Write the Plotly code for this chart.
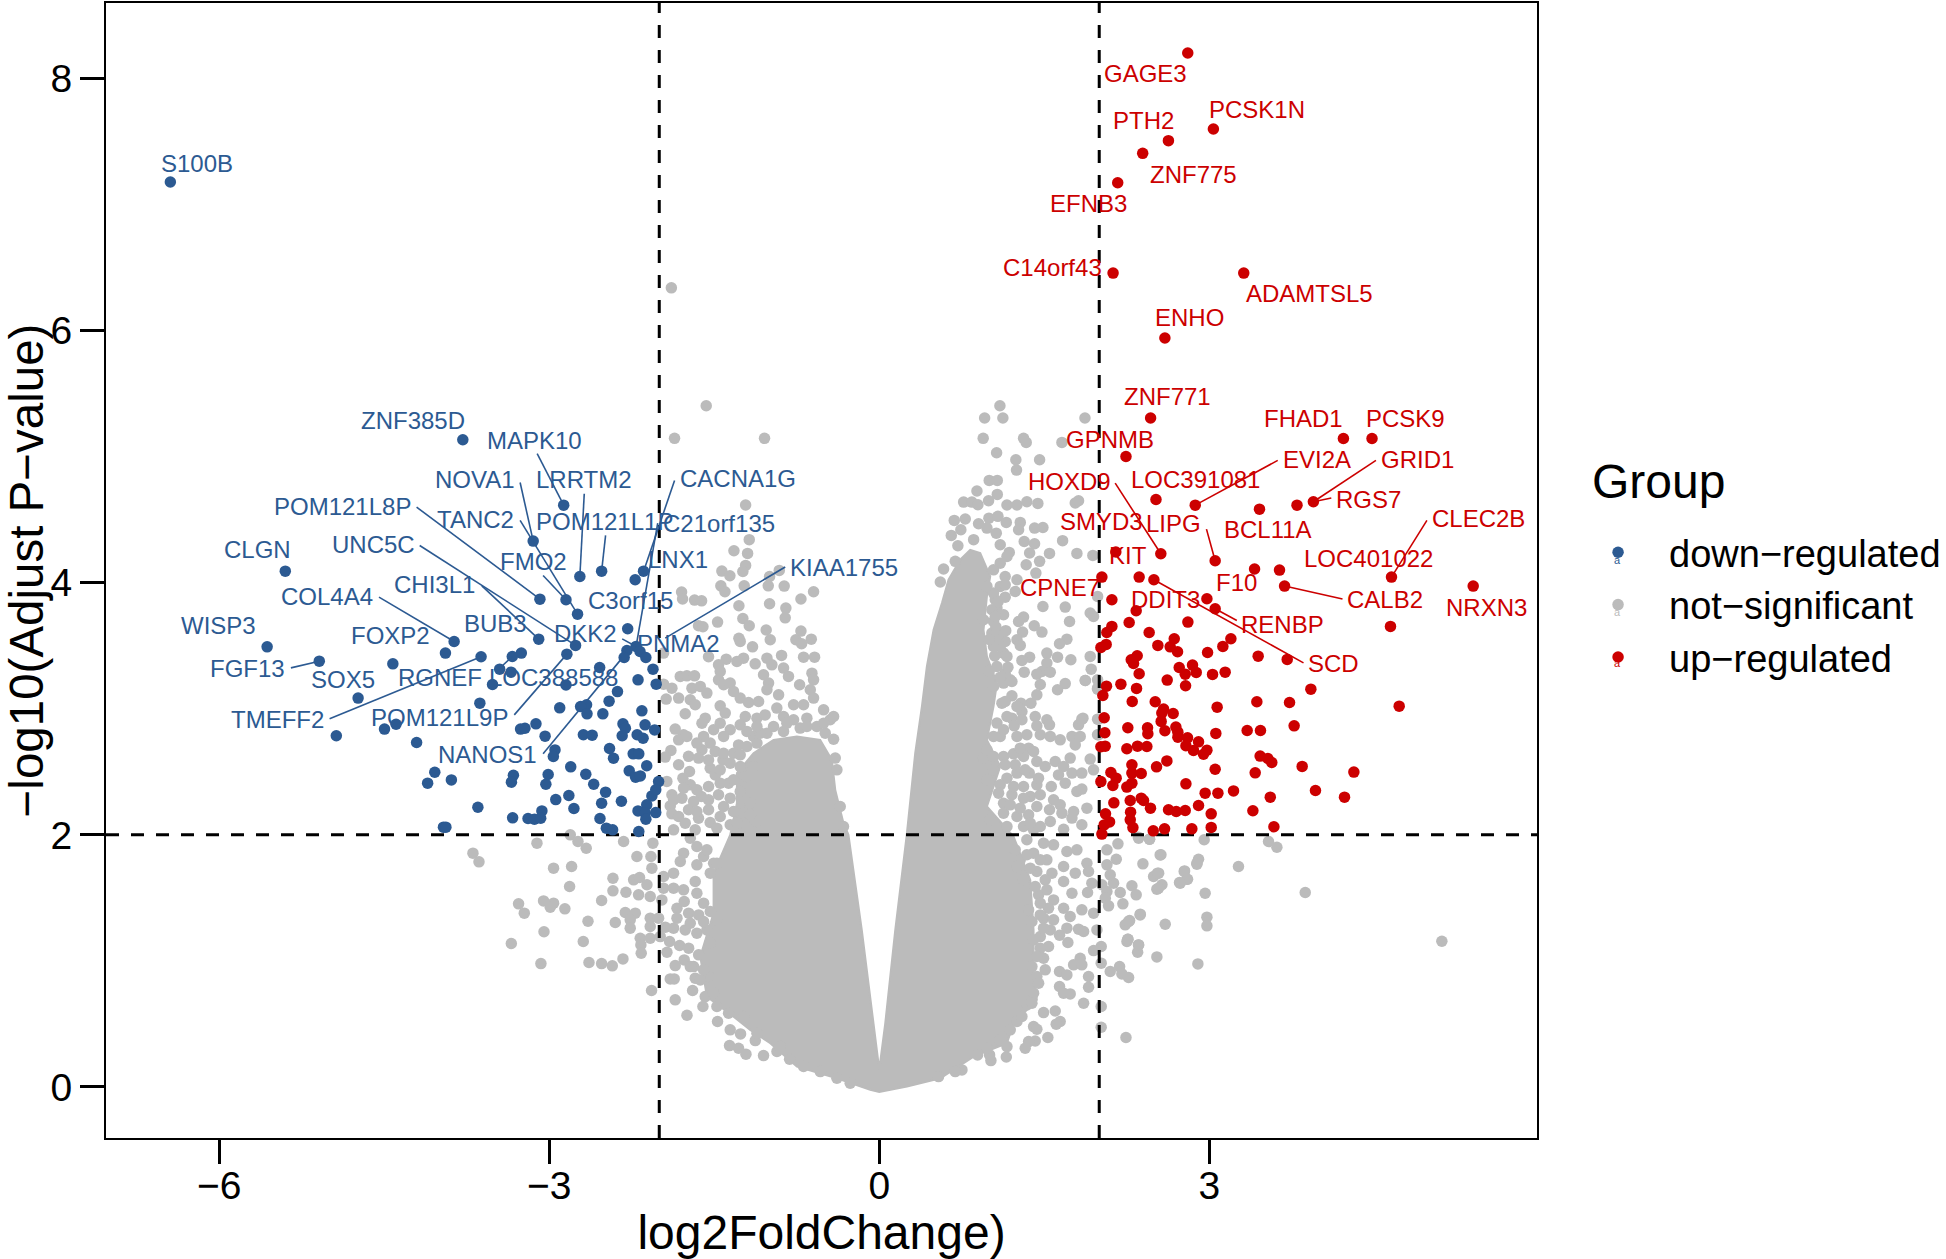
import plotly.graph_objects as go

BLUE = "#2C5A92"
RED = "#CC0000"
GREY = "#BBBBBB"
FONT = "Liberation Sans"

down_points = [(-6.445,7.18),(-3.786,5.135),(-2.869,4.616),(-3.146,4.331),(-5.40,4.092),(-2.524,4.092),(-2.722,4.05),(-2.143,4.092),(-2.219,4.024),(-3.085,3.87),(-2.848,3.865),(-2.743,3.751),(-2.287,3.635),(-3.096,3.553),(-3.865,3.534),(-2.761,3.503),(-5.565,3.492),(-3.944,3.442),(-2.84,3.434),(-2.211,3.495),(-2.294,3.463),(-2.319,3.407),(-2.175,3.455),(-2.122,3.407),(-3.62,3.413),(-3.254,3.442),(-3.336,3.415),(-5.091,3.378),(-4.422,3.357),(-2.542,3.328),(-2.057,3.315),(-3.451,3.315),(-3.347,3.291),(-3.516,3.193),(-2.848,3.19),(-2.193,3.23),(-2.028,3.196),(-2.38,3.137),(-4.738,3.085),(-2.456,3.061),(-3.631,3.045),(-2.905,3.008),(-2.661,3.032),(-2.715,3.018),(-2.158,2.984),(-2.657,2.96),(-2.513,2.96),(-4.936,2.786),(-4.498,2.839),(-4.393,2.878),(-4.206,2.733),(-3.261,2.839),(-3.221,2.846),(-3.121,2.881),(-3.038,2.783),(-2.69,2.794),(-2.61,2.791),(-2.33,2.881),(-2.308,2.846),(-2.337,2.786),(-2.129,2.873),(-2.042,2.833),(-2.201,2.794),(-2.147,2.767),(-2.452,2.685),(-2.948,2.674),(-2.963,2.622),(-2.416,2.608),(-2.237,2.643),(-2.186,2.643),(-2.114,2.548),(-2.805,2.54),(-2.273,2.508),(-4.041,2.497),(-2.668,2.481),(-3.326,2.473),(-3.01,2.479),(-2.215,2.458),(-2.172,2.468),(-3.89,2.436),(-3.344,2.418),(-4.106,2.41),(-3.031,2.402),(-2.596,2.402),(-2.006,2.423),(-2.488,2.339),(-2.822,2.312),(-2.941,2.28),(-2.344,2.267),(-2.524,2.251),(-2.067,2.309),(-2.032,2.357),(-2.114,2.238),(-3.649,2.219),(-2.776,2.209),(-3.067,2.19),(-2.193,2.19),(-2.129,2.172),(-2.032,2.177),(-3.333,2.135),(-3.193,2.13),(-3.135,2.124),(-3.078,2.132),(-2.539,2.13),(-2.122,2.124),(-3.962,2.061),(-3.94,2.061),(-2.481,2.053),(-2.424,2.04),(-2.186,2.027)]

up_points = [(2.805,8.203),(3.038,7.60),(2.629,7.508),(2.395,7.407),(2.168,7.174),(2.126,6.457),(3.314,6.457),(2.597,5.942),(2.467,5.307),(4.22,5.145),(4.48,5.145),(2.243,5.002),(2.516,4.661),(2.873,4.616),(3.457,4.584),(3.798,4.616),(3.947,4.643),(2.56,4.23),(3.054,4.175),(2.151,4.244),(3.412,4.109),(3.639,4.101),(4.657,4.045),(3.685,3.974),(5.40,3.974),(2.024,4.045),(2.363,4.045),(2.497,4.024),(2.115,3.865),(2.979,3.873),(3.054,3.794),(2.336,3.778),(2.272,3.685),(2.806,3.688),(4.648,3.654),(2.115,3.654),(2.069,3.606),(2.454,3.606),(2.682,3.556),(3.197,3.556),(2.063,3.511),(2.015,3.487),(2.533,3.503),(2.645,3.492),(2.712,3.453),(3.124,3.495),(2.985,3.447),(3.445,3.418),(3.709,3.392),(2.345,3.421),(2.291,3.389),(2.312,3.36),(2.727,3.328),(2.848,3.347),(2.782,3.275),(2.882,3.289),(2.363,3.278),(3.03,3.273),(3.145,3.291),(2.618,3.228),(2.066,3.18),(2.197,3.196),(2.339,3.162),(2.785,3.183),(3.924,3.156),(2.033,3.106),(2.3,3.058),(2.509,3.056),(3.433,3.056),(3.73,3.05),(4.727,3.021),(3.072,3.013),(2.585,2.998),(2.569,2.966),(2.672,2.963),(2.045,2.929),(2.563,2.9),(2.26,2.85),(2.439,2.85),(2.697,2.855),(3.772,2.865),(2.051,2.81),(2.442,2.802),(2.597,2.826),(2.715,2.815),(3.06,2.805),(3.345,2.828),(3.466,2.828),(2.715,2.775),(2.803,2.77),(2.903,2.738),(2.054,2.704),(2.015,2.699),(2.251,2.683),(2.348,2.704),(2.433,2.701),(2.788,2.707),(2.857,2.67),(2.979,2.672),(2.948,2.64),(3.463,2.625),(3.533,2.606),(3.569,2.574),(2.615,2.587),(2.521,2.54),(2.297,2.556),(3.845,2.543),(3.054,2.521),(3.418,2.492),(4.315,2.498),(2.106,2.495),(2.297,2.49),(2.382,2.487),(2.154,2.45),(2.015,2.423),(2.124,2.392),(2.297,2.41),(2.251,2.379),(2.788,2.405),(3.221,2.349),(3.966,2.352),(2.963,2.331),(3.079,2.331),(3.555,2.299),(4.23,2.299),(2.282,2.273),(2.382,2.291),(2.403,2.273),(2.133,2.254),(2.466,2.212),(2.903,2.233),(2.63,2.199),(2.7,2.185),(2.782,2.193),(3.397,2.191),(2.285,2.18),(2.057,2.167),(3.018,2.167),(2.282,2.119),(2.094,2.103),(2.045,2.079),(2.306,2.058),(3.588,2.064),(3.018,2.059),(2.842,2.048),(2.594,2.048),(2.491,2.032),(2.024,2.006)]

# Individually readable not-significant genes, left of zero
ns_left = [(-1.89,6.34),(-1.573,5.405),(-1.861,5.146),(-1.043,5.146),(-1.215,4.617),(-1.182,4.342),(-1.321,4.254),(-1.197,4.233),(-1.215,4.138),(-1.24,4.09),(-1.431,4.093),(-1.358,4.056),(-1.44,3.976),(-1.403,3.929),(-1.228,3.976),(-0.997,4.05),(-0.909,4.098),(-1.009,3.976),(-0.864,3.974),(-0.597,3.929),(-0.712,3.871),(-0.997,3.834),(-0.849,3.799),(-0.855,3.722),(-1.797,3.926),(-1.788,3.871),(-1.679,3.863),(-1.615,3.857),(-1.276,3.818),(-1.24,3.717),(-1.182,3.659),(-1.47,3.688),(-1.643,3.659),(-1.603,3.651),(-1.028,3.625),(-0.712,3.617),(-1.276,3.559),(-1.264,3.535),(-0.991,3.548),(-0.758,3.548),(-0.618,3.553),(-0.706,3.516),(-1.152,3.492),(-1.961,3.442),(-1.552,3.413),(-1.391,3.394),(-1.461,3.349),(-1.446,3.297),(-1.461,3.23),(-1.415,3.191),(-1.355,3.204),(-1.325,3.138),(-1.264,3.085),(-1.188,3.05),(-1.097,3.058),(-1.234,3.402),(-1.294,3.376),(-1.128,3.357),(-1.021,3.402),(-0.888,3.424),(-0.688,3.41),(-0.588,3.41),(-0.976,3.349),(-0.87,3.323),(-1.052,3.27),(-0.825,3.257),(-1.006,3.204),(-1.021,3.151),(-0.915,3.111),(-0.724,3.191),(-0.612,3.283),(-0.597,3.23),(-0.627,3.151),(-0.597,3.085),(-0.688,3.032),(-0.779,3.032),(-0.506,2.992),(-0.931,3.006),(-1.809,3.257),(-1.749,3.262),(-1.679,3.262),(-1.885,3.164),(-1.961,3.196),(-1.937,3.077),(-1.703,3.164),(-1.627,3.178),(-1.567,3.125),(-1.824,3.085),(-1.718,3.072),(-1.673,3.032),(-1.446,3.024),(-1.4,2.966),(-1.764,2.961),(-1.582,2.926),(-1.612,2.886),(-1.855,2.839),(-1.779,2.794),(-1.824,2.754),(-1.446,2.886),(-1.506,2.834),(-1.597,2.781),(-1.264,2.873),(-1.218,2.939),(-1.355,2.834),(-1.112,2.926),(-1.037,2.952),(-0.87,2.939),(-0.779,2.913),(-0.658,2.926),(-0.446,2.913),(-0.415,2.939),(-0.567,2.86),(-0.719,2.847),(-0.87,2.821),(-1.021,2.807),(-1.143,2.781),(-1.203,2.821),(-0.491,2.807),(-0.415,2.759),(-1.415,2.781),(-1.537,2.728),(-1.612,2.675),(-1.279,2.714),(-1.894,2.67),(-1.946,2.617),(-1.734,2.623),(-1.824,2.556),(-1.643,2.609),(-1.421,2.595),(-1.325,2.648),(-1.537,2.529),(-1.725,2.503),(-1.491,2.476),(-1.785,2.45),(-1.931,2.424),(-1.37,2.41),(-1.718,2.397),(-1.618,2.305),(-1.461,2.318),(-1.794,2.291),(-1.885,2.318),(-1.9,2.23),(-1.734,2.199),(-1.885,2.167),(-1.552,2.199),(-1.415,2.225),(-1.764,2.093),(-1.643,2.132),(-1.537,2.098),(-1.355,2.08),(-1.234,2.093),(-1.112,2.106),(-1.234,2.172),(-0.385,2.516),(-0.4,2.609),(-0.355,2.225),(-0.325,2.066),(-1.143,2.542),
(-2.809,2.0),(-2.739,1.947),(-2.664,1.894),(-3.112,1.934),(-3.694,1.855),(-3.639,1.786),(-2.324,1.947),(-2.058,1.934),(-2.203,1.828),(-2.076,1.828),(-2.961,1.736),(-2.797,1.749),(-2.067,1.736),(-2.421,1.656),(-2.815,1.59),(-2.233,1.643),(-2.179,1.662),(-2.112,1.604),(-2.421,1.556),(-2.303,1.545),(-1.961,1.67),(-2.188,1.524),(-2.082,1.511),(-1.976,1.484),(-1.961,1.577),(-1.87,1.577),(-1.673,1.63),(-1.779,1.564),(-1.658,1.537),(-2.524,1.479),(-3.279,1.453),(-3.227,1.379),(-3.052,1.476),(-2.961,1.458),(-2.991,1.426),(-2.858,1.413),(-2.648,1.315),(-2.309,1.384),(-2.218,1.379),(-2.4,1.305),(-2.264,1.326),(-2.264,1.26),(-2.082,1.339),(-2.006,1.339),(-2.082,1.273),(-1.945,1.268),(-1.839,1.418),(-1.773,1.471),(-1.839,1.339),(-1.733,1.379),(-1.642,1.365),(-1.87,1.26),(-1.764,1.246),(-1.536,1.392),(-1.476,1.326),(-3.048,1.231),(-2.691,1.154),(-3.345,1.138),(-2.173,1.18),(-2.082,1.18),(-1.991,1.193),(-2.167,1.127),(-1.906,1.154),(-1.815,1.122),(-1.733,1.101),(-1.658,1.22),(-1.567,1.246),(-1.642,1.048),(-2.164,1.061),(-1.93,1.069),(-2.33,1.016),(-2.639,0.987),(-2.524,0.979),(-2.427,0.961),(-3.076,0.979),(-1.773,1.008),(-1.855,0.963),(-1.688,0.955),(-1.673,0.863),(-1.9,0.857),(-1.864,0.857),(-1.552,0.876),(-2.07,0.765),(-1.697,0.765),(-1.855,0.691),(-1.582,0.717),(-1.603,0.638),(-1.748,0.569),(-1.47,0.519),(-1.355,0.453),(-1.261,0.421),(-1.361,0.328),(-1.279,0.307),(-1.212,0.26),(-1.052,0.249),(-1.127,0.368),(-0.93,0.281),(-0.815,0.22),(-1.718,1.974),(-1.779,1.855),(-1.658,1.908),(-1.809,1.789),(-1.87,1.696),(-1.597,1.828),(-1.658,1.762),(-1.506,1.775),
(-1.749,2.781),(-1.658,2.728),(-1.491,2.662),(-1.415,2.648),(-1.264,2.635),(-1.355,2.569),(-1.552,2.595),(-1.446,2.516),(-1.264,2.542),(-1.203,2.463),(-1.325,2.437),(-1.446,2.41),(-1.552,2.384),(-1.658,2.357),(-1.779,2.371),(-1.87,2.278),(-1.688,2.265),(-1.552,2.278),(-1.355,2.291),(-1.264,2.344),(-1.173,2.251),(-1.325,2.185),(-1.446,2.146),(-1.658,2.185),(-1.824,2.146),(-1.173,2.159),(-1.294,2.093),(-1.476,2.053),(-1.673,2.04),(-1.87,2.04),(-1.112,2.728),(-1.203,2.701),(-1.082,2.807),(-0.84,2.886),(-0.658,2.86),(-0.961,2.86),(-1.112,2.86),(-0.506,2.886),
(-1.536,1.696),(-1.476,1.775),(-1.567,1.881),(-1.597,1.458),(-1.718,1.299),(-1.597,1.312),(-1.536,1.141),(-1.718,0.955),(-1.597,0.929),(-1.627,0.849),(-1.506,0.744),(-1.476,0.638),(-1.37,0.585),(-1.233,0.558),(-1.112,0.426),(-0.9,0.32),(-0.688,0.162),(-0.536,0.122),(-0.385,0.069),(-0.264,0.029)]

# Individually readable not-significant genes, right of zero
ns_right = [(1.097,5.405),(0.958,5.307),(1.124,5.307),(0.945,5.146),(1.312,5.146),(1.336,5.114),(1.87,5.307),(1.661,5.114),(1.067,5.032),(1.242,4.976),(1.458,4.976),(1.248,4.894),(1.0,4.812),(1.073,4.812),(0.888,4.728),(1.073,4.701),(0.994,4.651),(0.767,4.64),(0.842,4.64),(0.897,4.619),(1.161,4.617),(1.252,4.617),(1.342,4.643),(1.442,4.63),(1.782,4.633),(1.812,4.651),(0.997,4.513),(1.079,4.527),(1.155,4.479),(0.682,4.495),(0.782,4.506),(0.903,4.468),(1.282,4.479),(1.267,4.421),(1.412,4.434),(1.488,4.439),(0.655,4.376),(0.742,4.421),(0.979,4.434),(1.064,4.394),(1.667,4.334),(1.318,4.328),(1.412,4.31),(0.715,4.294),(0.858,4.342),(1.1,4.302),(1.182,4.241),(1.367,4.236),(1.548,4.233),(1.797,4.233),(1.942,4.217),(1.458,4.17),(1.336,4.143),(0.585,4.109),(0.691,4.17),(0.555,4.006),(1.424,4.077),(1.145,4.05),(1.252,4.024),(1.1,3.971),(1.236,3.931),(1.145,3.886),(1.055,3.865),(1.07,3.799),(1.985,3.892),(1.488,3.812),(1.691,3.807),(1.13,3.746),(1.039,3.693),(1.918,3.76),(1.948,3.733),(1.312,3.728),(1.267,3.693),(1.73,3.693),(1.409,3.659),(1.479,3.609),(1.303,3.609),(1.024,3.601),(1.706,3.553),(1.639,3.516),(1.252,3.548),(1.145,3.535),(1.282,3.503),(1.13,3.442),(1.524,3.442),(1.918,3.416),(1.367,3.41),(1.297,3.384),(1.621,3.41),(1.742,3.389),(1.524,3.363),(1.927,3.315),(1.318,3.291),(1.479,3.296),(1.433,3.275),(1.555,3.291),(1.191,3.23),(1.13,3.204),(1.691,3.2),(1.873,3.225),(1.464,3.193),(1.985,3.164),(1.621,3.151),(1.433,3.111),(1.206,3.103),(1.379,3.045),(1.288,3.045),(1.115,3.045),(1.297,2.979),(1.418,2.939),(1.852,2.926),(1.812,2.873),(1.985,2.918),(1.524,2.913),(1.206,2.926),(1.227,2.865),(1.433,2.865),(1.548,2.873),(1.252,2.781),(1.342,2.794),(1.464,2.794),(1.555,2.781),(1.645,2.754),(1.752,2.781),(1.827,2.781),(1.985,2.794),(1.782,2.714),(1.1,2.781),(1.358,2.688),(1.221,2.643),(1.13,2.622),(1.312,2.622),(1.433,2.582),(0.948,2.609),(1.509,2.543),(1.6,2.582),(1.736,2.609),(1.918,2.601),(1.676,2.543),(1.252,2.49),(1.364,2.49),(1.63,2.476),(1.752,2.49),(1.842,2.49),(1.948,2.516),(1.161,2.45),(1.691,2.41),(1.312,2.384),(1.433,2.397),(1.564,2.384),(1.373,2.305),(1.797,2.344),(1.842,2.363),(1.206,2.318),(1.585,2.278),(1.433,2.225),(1.645,2.238),(1.13,2.251),(1.888,2.212),(1.548,2.199),(1.767,2.185),(1.661,2.172),(1.358,2.159),(1.752,2.133),(1.252,2.146),(1.555,2.106),(1.842,2.08),(1.464,2.066),(1.676,2.045),(1.312,2.066),(1.161,2.066),(1.403,2.04),
(2.17,1.929),(2.07,1.881),(2.561,1.842),(2.155,1.807),(2.397,1.77),(2.07,1.762),(1.706,1.868),(2.358,1.974),(2.458,1.966),(2.888,1.775),(2.773,1.71),(2.54,1.696),(2.494,1.67),(2.797,1.648),(2.73,1.622),(2.57,1.604),(2.524,1.569),(2.297,1.596),(2.336,1.524),(2.191,1.543),(2.13,1.617),(2.1,1.683),(2.024,1.604),(1.933,1.617),(1.894,1.543),(2.07,1.551),(2.055,1.498),(2.085,1.437),(2.215,1.453),(2.373,1.371),(2.6,1.291),(2.276,1.32),(2.236,1.286),(1.949,1.379),(1.979,1.246),(1.842,1.405),(1.736,1.352),(1.812,1.252),(1.858,1.233),(1.706,1.26),(1.639,1.204),(1.715,1.146),(2.261,1.172),(2.358,1.127),(2.252,1.154),(2.349,1.069),(2.524,1.032),(2.897,0.976),(2.018,1.114),(1.949,1.082),(1.827,1.021),(2.018,0.982),(1.767,0.969),(1.842,0.969),(2.1,0.916),(2.185,0.955),(2.206,0.897),(2.267,0.868),(1.903,0.876),(1.903,0.791),(1.639,0.916),(1.706,0.889),(1.639,0.797),(1.676,0.744),(1.736,0.738),(1.858,0.664),(2.018,0.638),(1.6,0.603),(1.494,0.59),(1.645,0.519),(1.609,0.498),(1.403,0.479),(1.433,0.458),(2.018,0.474),(2.243,0.392),(1.533,0.392),(1.418,0.365),(1.358,0.36),(1.327,0.307),(1.155,0.238),(1.003,0.254),(1.015,0.209),(0.894,0.254),(1.161,0.32),(0.752,0.135),(0.539,0.082),(0.691,0.122),(1.585,1.921),(1.524,1.802),(1.797,1.881),(1.888,1.775),(1.903,1.709),(1.676,1.749),(1.782,1.696),(1.676,1.63),(1.752,1.537),(1.57,1.696),(1.509,1.643),(1.433,1.709),(1.282,1.802),(1.403,1.855),(1.342,1.961),(1.494,1.934),(1.585,1.484),(1.539,1.418),(1.676,1.418),(1.494,1.339),(1.585,1.326),(1.555,1.246),(1.449,1.524),(1.464,1.193),(1.539,1.114),(1.494,1.021),(1.509,0.929),(1.433,0.876),(1.403,0.744),(1.342,0.651),(1.252,0.519),
(5.115,1.156),(3.873,1.543),(3.266,1.749),(3.615,1.902),(3.539,1.947),(2.954,1.961),(2.903,1.807),(2.888,1.767),(2.554,1.841),(2.357,1.982),(2.457,1.966),(2.776,1.714),(2.803,1.648),(2.53,1.696),(2.736,1.617),(2.539,1.577),(2.963,1.537),(2.979,1.347),(2.979,1.278),(2.372,1.365),(2.266,1.312),(2.26,1.172),(2.357,1.127),(1.873,3.225),(1.985,3.23),(1.985,3.156),(1.842,2.918),(1.994,2.918),(1.994,2.794),
(1.161,4.209),(1.1,4.156),(1.039,4.103),(1.145,3.984),(1.039,3.918),(0.979,3.971),(1.024,3.786),(1.055,3.733),(0.948,3.707),(1.1,3.495),(1.161,3.416),(1.039,3.495),(1.07,3.336),(1.145,3.283),(1.206,3.217),(1.039,3.178),(1.145,3.058),(1.252,3.019),(1.297,2.913),(1.161,2.939),(1.07,2.887),(1.13,2.834),(1.039,2.781),(0.979,2.675),(1.039,2.622),(1.145,2.556),(1.282,2.688),(1.403,2.662),(1.236,2.556),(1.327,2.516),(1.448,2.45),(1.039,2.516),(0.979,2.437),(1.1,2.397),(1.221,2.384),(1.464,2.318),(1.312,2.291),(1.13,2.172),(1.282,2.212),(1.009,2.119),(1.191,2.238),(1.373,2.093),(1.085,2.331),
(1.236,1.881),(1.342,1.842),(1.252,1.749),(1.373,1.736),(1.464,1.802),(1.312,1.643),(1.418,1.59),(1.524,1.564),(1.464,1.458),(1.358,1.405),(1.464,1.365),(1.388,1.313),(1.494,1.26),(1.403,1.167),(1.464,1.101),(1.433,1.035),(1.388,0.955),(1.449,0.823),(1.388,0.664),(1.297,0.559),(1.191,0.453),(1.1,0.373),(0.979,0.307),
(1.1,3.6),(1.06,3.55),(1.15,3.62),(1.0,3.55),(1.08,3.85),(1.05,3.42),(1.17,3.33),(1.1,3.25),(1.0,3.3),(1.06,3.65)]

# Outline of the saturated grey mass where points overlap beyond reading
ns_mass_outline = [(0.0,0.14),(0.054,0.5),(0.145,1.24),(0.25,2.0),(0.327,2.648),(0.388,3.019),(0.433,3.336),(0.494,3.627),(0.57,3.839),(0.63,4.024),(0.736,4.183),(0.827,4.262),(0.918,4.236),(1.009,4.05),(0.979,3.892),(0.948,3.627),(0.979,3.416),(1.07,3.204),(1.039,3.019),(0.979,2.754),(1.1,2.543),(0.979,2.225),(1.221,1.987),(1.373,1.643),(1.403,1.246),(1.403,0.929),(1.433,0.691),(1.221,0.506),(1.161,0.347),(0.858,0.241),(0.555,0.069),(0.252,0.003),(0.0,-0.04),(-0.082,-0.023),(-0.385,0.069),(-0.748,0.162),(-0.991,0.347),(-1.173,0.453),(-1.324,0.558),(-1.567,0.717),(-1.627,1.035),(-1.506,1.379),(-1.506,1.696),(-1.355,2.0),(-1.294,2.251),(-1.294,2.49),(-1.143,2.648),(-0.961,2.754),(-0.749,2.781),(-0.537,2.754),(-0.431,2.596),(-0.4,2.357),(-0.325,2.093),(-0.28,2.0),(-0.158,1.24),(-0.05,0.51),(0.0,0.14)]

down_labels = [("S100B",-6.2,7.33),("ZNF385D",-4.242,5.288),("MAPK10",-3.135,5.132),("NOVA1",-3.678,4.82),("LRRTM2",-2.686,4.82),("POM121L8P",-4.882,4.606),("TANC2",-3.667,4.505),("POM121L1P",-2.499,4.487),("CLGN",-5.651,4.262),("UNC5C",-4.602,4.301),("FMO2",-3.146,4.169),("LNX1",-1.827,4.182),("CHI3L1",-4.041,3.984),("C3orf15",-2.265,3.857),("COL4A4",-5.022,3.891),("BUB3",-3.487,3.674),("DKK2",-2.668,3.595),("WISP3",-6.011,3.659),("FOXP2",-4.447,3.579),("PNMA2",-1.827,3.521),("FGF13",-5.741,3.323),("SOX5",-4.879,3.235),("RGNEF",-3.991,3.249),("LOC388588",-2.966,3.249),("TMEFF2",-5.472,2.918),("POM121L9P",-4.0,2.934),("NANOS1",-3.559,2.635),("CACNA1G",-1.288,4.827),("C21orf135",-1.461,4.474),("KIAA1755",-0.319,4.124)]

up_labels = [("GAGE3",2.425,8.037),("PCSK1N",3.438,7.754),("PTH2",2.399,7.666),("ZNF775",2.86,7.243),("EFNB3",1.905,7.008),("C14orf43",1.577,6.5),("ADAMTSL5",3.908,6.299),("ENHO",2.821,6.106),("ZNF771",2.619,5.479),("FHAD1",3.86,5.304),("PCSK9",4.785,5.304),("GPNMB",2.097,5.14),("EVI2A",3.977,4.976),("GRID1",4.889,4.976),("HOXD9",1.727,4.804),("LOC391081",2.876,4.817),("RGS7",4.451,4.659),("SMYD3",2.018,4.484),("LIPG",2.675,4.469),("BCL11A",3.533,4.421),("CLEC2B",5.448,4.513),("KIT",2.26,4.217),("LOC401022",4.448,4.196),("F10",3.245,4.006),("CPNE7",1.645,3.964),("DDIT3",2.6,3.871),("CALB2",4.6,3.865),("NRXN3",5.518,3.807),("RENBP",3.669,3.667),("SCD",4.13,3.363)]

down_leaders = [(-3.11,5.024,-2.869,4.616),(-3.265,4.796,-3.146,4.331),(-3.265,4.495,-2.743,3.751),(-4.206,4.60,-3.085,3.87),(-2.682,4.706,-2.722,4.05),(-2.488,4.376,-2.524,4.092),(-4.178,4.296,-2.761,3.503),(-3.056,4.058,-2.848,3.865),(-3.613,3.976,-3.096,3.553),(-4.548,3.886,-3.865,3.534),(-5.349,3.325,-5.091,3.378),(-4.997,2.921,-3.62,3.413),(-3.318,2.952,-2.84,3.434),(-3.056,2.643,-2.301,3.442),(-3.434,3.336,-3.336,3.415),(-2.337,3.555,-2.211,3.495),(-1.861,4.812,-2.143,4.09),(-2.211,3.495,-2.014,4.473),(-0.855,4.125,-1.946,3.561)]

up_leaders = [(3.623,4.971,2.873,4.616),(4.516,4.971,3.947,4.643),(4.11,4.672,3.947,4.643),(2.145,4.791,2.56,4.23),(2.975,4.426,3.054,4.175),(4.979,4.495,4.657,4.045),(4.212,3.871,3.685,3.974),(3.857,3.365,2.497,4.024),(3.251,3.701,3.054,3.794)]

x_ticks = [-6, -3, 0, 3]
y_ticks = [0, 2, 4, 6, 8]
fc_cut = 2
p_cut = 2
x_range = [-7.03, 5.98]
y_range = [-0.405, 8.6]

def unzip(pairs):
    return [p[0] for p in pairs], [p[1] for p in pairs]

def segs(rows):
    xs, ys = [], []
    for x0, y0, x1, y1 in rows:
        xs += [x0, x1, None]
        ys += [y0, y1, None]
    return xs, ys

MS = 11.5
fig = go.Figure()
mx, my = unzip(ns_mass_outline)
fig.add_trace(go.Scatter(x=mx, y=my, mode="lines", fill="toself", fillcolor=GREY,
                         line=dict(color=GREY, width=2), showlegend=False, hoverinfo="skip"))
gx, gy = unzip(ns_left + ns_right)
fig.add_trace(go.Scatter(x=gx, y=gy, mode="markers", name="not\u2212significant", legendrank=2,
                         marker=dict(color=GREY, size=MS)))
dash = dict(color="black", width=3, dash="13px,12px")
for sx, sy in [([-fc_cut, -fc_cut], y_range), ([fc_cut, fc_cut], y_range), (x_range, [p_cut, p_cut])]:
    fig.add_trace(go.Scatter(x=sx, y=sy, mode="lines", line=dash, showlegend=False, hoverinfo="skip"))
bx, by = unzip(down_points)
fig.add_trace(go.Scatter(x=bx, y=by, mode="markers", name="down\u2212regulated", legendrank=1,
                         marker=dict(color=BLUE, size=MS)))
rx, ry = unzip(up_points)
fig.add_trace(go.Scatter(x=rx, y=ry, mode="markers", name="up\u2212regulated", legendrank=3,
                         marker=dict(color=RED, size=MS)))
lx, ly = segs(down_leaders)
fig.add_trace(go.Scatter(x=lx, y=ly, mode="lines", line=dict(color=BLUE, width=1.6), showlegend=False, hoverinfo="skip"))
lx, ly = segs(up_leaders)
fig.add_trace(go.Scatter(x=lx, y=ly, mode="lines", line=dict(color=RED, width=1.6), showlegend=False, hoverinfo="skip"))

anns = []
for rows, col in ((down_labels, BLUE), (up_labels, RED)):
    for t, x, y in rows:
        anns.append(dict(x=x, y=y, xref="x", yref="y", text=t, showarrow=False,
                         font=dict(family=FONT, size=24, color=col)))
anns.append(dict(x=1.037, y=0.5785, xref="paper", yref="paper", xanchor="left", yanchor="middle",
                 text="Group", showarrow=False, font=dict(family=FONT, size=48, color="black")))
for yp, col in ((0.509, BLUE), (0.4634, GREY), (0.4185, RED)):
    anns.append(dict(x=1.0566, y=yp, xref="paper", yref="paper", xanchor="center", yanchor="middle",
                     text="a", showarrow=False, font=dict(family=FONT, size=11, color=col)))

axis = dict(showline=True, linecolor="black", linewidth=2, mirror=True, showgrid=False, zeroline=False,
            ticks="outside", ticklen=24, tickwidth=3, tickcolor="black",
            tickfont=dict(family=FONT, size=39, color="black"))

fig.update_layout(
    width=1946, height=1259, paper_bgcolor="white", plot_bgcolor="white",
    margin=dict(l=106, r=409, t=3, b=121, autoexpand=False),
    font=dict(family=FONT, color="black"),
    annotations=anns,
    xaxis=dict(axis, range=x_range, tickvals=x_ticks, ticklabelstandoff=-12,
               title=dict(text="log2FoldChange)", font=dict(family=FONT, size=48), standoff=14)),
    yaxis=dict(axis, range=y_range, tickvals=y_ticks,
               title=dict(text="\u2212log10(Adjust P\u2212value)", font=dict(family=FONT, size=47.5), standoff=6)),
    legend=dict(x=1.021, y=0.5436, xanchor="left", yanchor="top", font=dict(family=FONT, size=38, color="black"),
                itemwidth=92, bgcolor="rgba(0,0,0,0)", tracegroupgap=0),
    hovermode=False,
)
fig.write_html("out.html", config={"displayModeBar": False}, post_script="document.body.style.margin='0';")
